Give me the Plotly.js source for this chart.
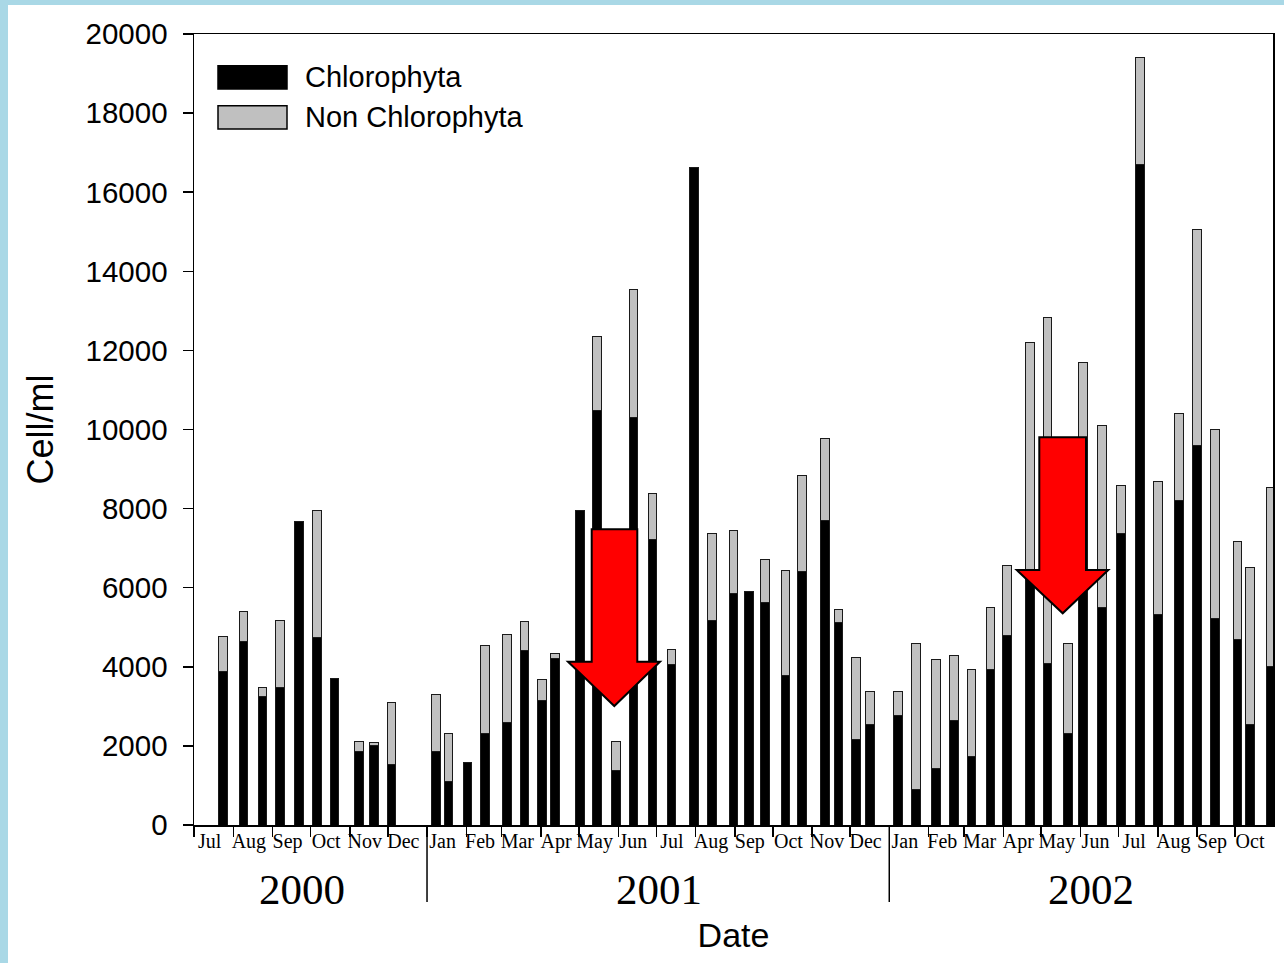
<!DOCTYPE html>
<html>
<head>
<meta charset="utf-8">
<script src="https://cdn.plot.ly/plotly-3.0.1.min.js"></script>
<style>
  html, body { margin: 0; padding: 0; background: #a9d8e6; }
  #chart { width: 1284px; height: 963px; }
</style>
</head>
<body>
<div id="chart"></div>
<script>
// ---- Data ----
const sampleDates = [
  '2000-07-24','2000-08-09','2000-08-24','2000-09-07','2000-09-22','2000-10-06','2000-10-20',
  '2000-11-08','2000-11-20','2000-12-04',
  '2001-01-08','2001-01-18','2001-02-02','2001-02-16','2001-03-05','2001-03-19','2001-04-02',
  '2001-04-12','2001-05-02','2001-05-15','2001-05-30','2001-06-13','2001-06-28','2001-07-13',
  '2001-07-31','2001-08-14','2001-08-31','2001-09-12','2001-09-25','2001-10-11','2001-10-24',
  '2001-11-11','2001-11-22','2001-12-06','2001-12-17',
  '2002-01-08','2002-01-22','2002-02-07','2002-02-21','2002-03-07','2002-03-22','2002-04-04',
  '2002-04-22','2002-05-06','2002-05-22','2002-06-03','2002-06-18','2002-07-03','2002-07-18',
  '2002-08-01','2002-08-18','2002-09-01','2002-09-15','2002-10-03','2002-10-13','2002-10-29'
];
const chlorophyta = [
  3890, 4650, 3260, 3480, 7670, 4740, 3700,
  1850, 2020, 1540,
  1870, 1110, 1580, 2320, 2600, 4420, 3140,
  4200, 7940, 10490, 1370, 10300, 7220, 4050,
  16630, 5180, 5850, 5900, 5630, 3790, 6420,
  7710, 5120, 2150, 2530,
  2780, 910, 1430, 2630, 1720, 3920, 4800,
  6240, 4090, 2320, 6000, 5490, 7370, 16690,
  5330, 8200, 9590, 5210, 4700, 2550, 4020
];
const nonChlorophyta = [
  870, 740, 210, 1690, 0, 3210, 0,
  270, 70, 1550,
  1420, 1210, 0, 2210, 2220, 720, 530,
  140, 0, 1850, 740, 3240, 1160, 390,
  0, 2180, 1600, 0, 1080, 2640, 2410,
  2070, 320, 2080, 840,
  590, 3680, 2760, 1650, 2200, 1570, 1770,
  5950, 8740, 2260, 5690, 4610, 1210, 2720,
  3350, 2200, 5470, 4780, 2480, 3970, 4520
];
const seriesNames = ['Chlorophyta', 'Non Chlorophyta'];
const seriesColors = ['#000000', '#c0c0c0'];
const yearLabels = ['2000', '2001', '2002'];
const yearLabelDates = ['2000-09-24', '2001-07-03', '2002-06-09'];
const yearBoundaries = ['2001-01-01', '2002-01-01'];
const xRange = ['2000-07-01', '2002-10-31'];

// ---- Layout helpers ----
const W = 1284, H = 963;
const M = {l: 194, r: 11, t: 34, b: 138};
const PW = W - M.l - M.r, PH = H - M.t - M.b;
const px = x => (x - M.l) / PW;         // pixel -> paper x
const py = y => (H - M.b - y) / PH;     // pixel -> paper y

const barWidthMs = 6.9 * 24 * 3600 * 1000;
const outline = {color: '#1a1a1a', width: 1};

const traces = [
  {type: 'bar', name: seriesNames[0], x: sampleDates, y: chlorophyta,
   width: barWidthMs, marker: {color: seriesColors[0], line: outline}},
  {type: 'bar', name: seriesNames[1], x: sampleDates, y: nonChlorophyta,
   width: barWidthMs, marker: {color: seriesColors[1], line: outline}}
];

function arrowPath(pts) {
  return 'M ' + pts.map(p => px(p[0]).toFixed(5) + ',' + py(p[1]).toFixed(5)).join(' L ') + ' Z';
}
function downArrow(x0, x1, top, headY, hx0, hx1, tipX, tipY) {
  return arrowPath([[x0, top], [x1, top], [x1, headY], [hx1, headY], [tipX, tipY], [hx0, headY], [x0, headY]]);
}

const shapes = [
  // white slide area
  {type: 'rect', xref: 'paper', yref: 'paper', layer: 'below',
   x0: px(8), x1: px(1290), y0: py(970), y1: py(5),
   fillcolor: '#ffffff', line: {width: 0}},
  // legend swatches
  {type: 'rect', xref: 'paper', yref: 'paper', x0: px(218), x1: px(287), y0: py(89), y1: py(65.7),
   fillcolor: seriesColors[0], line: {color: '#000', width: 1.5}},
  {type: 'rect', xref: 'paper', yref: 'paper', x0: px(218), x1: px(287), y0: py(129), y1: py(105.7),
   fillcolor: seriesColors[1], line: {color: '#000', width: 1.5}},
  // red arrows
  {type: 'path', xref: 'paper', yref: 'paper',
   path: downArrow(591.7, 637.3, 529.3, 661.7, 568, 660, 614.3, 706),
   fillcolor: '#ff0000', line: {color: '#000', width: 2}},
  {type: 'path', xref: 'paper', yref: 'paper',
   path: downArrow(1039.3, 1086, 437.3, 570, 1016.7, 1108.3, 1062.7, 613.3),
   fillcolor: '#ff0000', line: {color: '#000', width: 2}}
];
// year separators
yearBoundaries.forEach(d => shapes.push({
  type: 'line', xref: 'x', yref: 'paper', x0: d, x1: d, y0: 0, y1: py(902),
  line: {color: '#000', width: 1.5}
}));

const annotations = [
  {xref: 'paper', yref: 'paper', x: px(303), y: py(77), xanchor: 'left', yanchor: 'middle',
   text: seriesNames[0], showarrow: false, font: {family: 'Liberation Sans, Arial', size: 29, color: '#000'}},
  {xref: 'paper', yref: 'paper', x: px(303), y: py(117), xanchor: 'left', yanchor: 'middle',
   text: seriesNames[1], showarrow: false, font: {family: 'Liberation Sans, Arial', size: 29, color: '#000'}}
];
yearLabels.forEach((t, i) => annotations.push({
  xref: 'x', yref: 'paper', x: yearLabelDates[i], y: py(889), xanchor: 'center', yanchor: 'middle',
  text: t, showarrow: false, font: {family: 'Liberation Serif, Times New Roman', size: 43, color: '#000'}
}));

const layout = {
  width: W, height: H,
  margin: M,
  paper_bgcolor: '#a9d8e6',
  plot_bgcolor: '#ffffff',
  barmode: 'stack',
  bargap: 0,
  showlegend: false,
  font: {family: 'Liberation Sans, Arial', color: '#000'},
  xaxis: {
    type: 'date',
    range: xRange,
    tick0: '2000-07-01',
    dtick: 'M1',
    tickformat: '%b',
    ticklabelmode: 'period',
    ticks: 'outside', ticklen: 10, tickwidth: 1.5, tickcolor: '#000',
    ticklabelstandoff: -13,
    ticklabelshift: -4,
    tickfont: {family: 'Liberation Serif, Times New Roman', size: 20, color: '#000'},
    showline: true, linecolor: '#000', linewidth: 1.5, mirror: true,
    showgrid: false, zeroline: false,
    title: {text: 'Date', font: {family: 'Liberation Sans, Arial', size: 34, color: '#000'}, standoff: 71}
  },
  yaxis: {
    range: [0, 20000],
    dtick: 2000,
    tickformat: 'd',
    ticks: 'outside', ticklen: 10, tickwidth: 1.5, tickcolor: '#000',
    ticklabelstandoff: 9,
    tickfont: {family: 'Liberation Sans, Arial', size: 29.5, color: '#000'},
    showline: true, linecolor: '#000', linewidth: 1.5, mirror: true,
    showgrid: false, zeroline: false,
    title: {text: 'Cell/ml', font: {family: 'Liberation Sans, Arial', size: 36, color: '#000'}, standoff: 21}
  },
  shapes: shapes,
  annotations: annotations
};

Plotly.newPlot('chart', traces, layout, {staticPlot: true, displayModeBar: false});
</script>
</body>
</html>
